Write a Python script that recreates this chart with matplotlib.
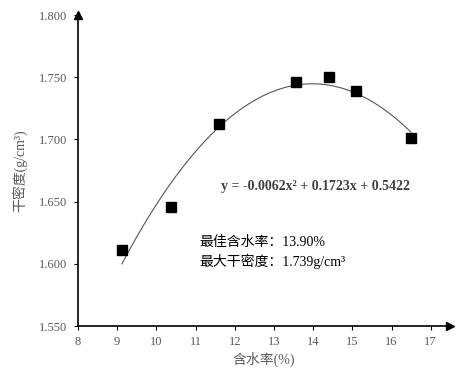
import numpy as np
import matplotlib
matplotlib.use("Agg")
import matplotlib.pyplot as plt

plt.rcParams['font.family'] = ['Liberation Serif', 'Noto Sans CJK SC', 'DejaVu Sans']

# data
moisture = [9.12, 10.37, 11.59, 13.56, 14.40, 15.09, 16.49]
dry_density = [1.611, 1.646, 1.712, 1.746, 1.750, 1.739, 1.701]
x_ticks = [8, 9, 10, 11, 12, 13, 14, 15, 16, 17]
y_ticks = [1.550, 1.600, 1.650, 1.700, 1.750, 1.800]

fig = plt.figure(figsize=(4.77, 3.85), dpi=100)
ax = fig.add_axes([0.1635, 0.1532, 0.7805, 0.8078])

# quadratic trend line fitted to the points
poly = np.poly1d(np.polyfit(moisture, dry_density, 2))
xs = np.linspace(min(moisture), max(moisture), 200)
ax.plot(xs, poly(xs), color='#555555', lw=0.8, zorder=2)
ax.plot(moisture, dry_density, 's', color='black', markersize=7.5, zorder=3)

ax.set_xlim(8, 17.5)
ax.set_ylim(1.55, 1.80)
ax.set_xticks(x_ticks)
ax.set_yticks(y_ticks)
ax.set_yticklabels([f'{v:.3f}' for v in y_ticks])
ax.tick_params(direction='out', length=3, width=0.8, colors='black',
               labelcolor='#595959', labelsize=9)
ax.tick_params(axis='x', pad=4)
ax.tick_params(axis='y', pad=5)

for s in ['top', 'right']:
    ax.spines[s].set_visible(False)
for s in ['left', 'bottom']:
    ax.spines[s].set_linewidth(1.2)

# arrow heads
ax.plot(1, 0, '>', color='black', markersize=6, transform=ax.transAxes, clip_on=False)
ax.plot(0, 1, '^', color='black', markersize=6, transform=ax.transAxes, clip_on=False)

ax.set_xlabel('含水率(%)', color='#595959', fontsize=10, labelpad=3)
ax.set_ylabel('干密度(g/cm³)', color='#595959', fontsize=10, labelpad=8)

ax.text(0.384, 0.45, 'y = -0.0062x² + 0.1723x + 0.5422', transform=ax.transAxes,
        fontsize=10, fontweight='bold', color='#404040', va='center')
ax.text(0.325, 0.27, '最佳含水率：13.90%', transform=ax.transAxes,
        fontsize=10, color='black', va='center')
ax.text(0.325, 0.209, '最大干密度：1.739g/cm³', transform=ax.transAxes,
        fontsize=10, color='black', va='center')

plt.savefig('out.png', dpi=100)
